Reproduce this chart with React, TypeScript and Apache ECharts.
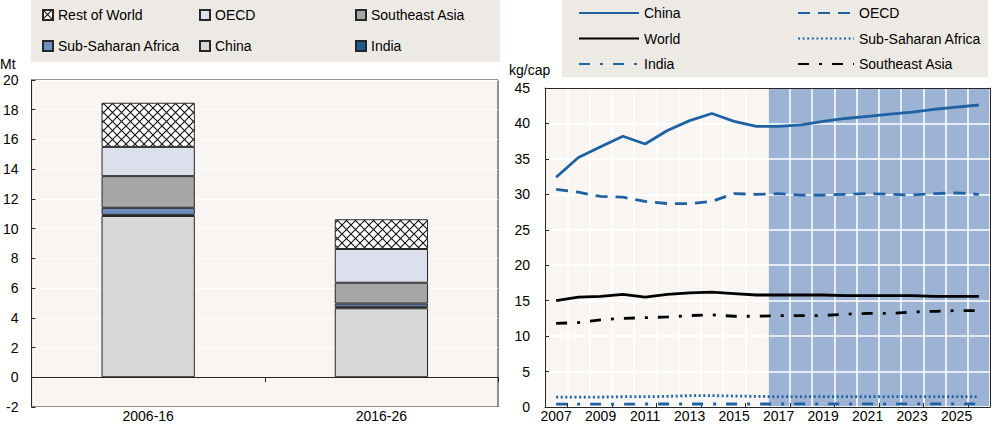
import React, { useEffect, useRef } from "react";
import * as echarts from "echarts";

// ---------- Left panel: change in consumption (Mt) ----------
const periods = ["2006-16", "2016-26"];
const chinaMt = [10.85, 4.64];
const indiaMt = [0.08, 0.1];
const ssaMt = [0.47, 0.22];
const seaMt = [2.13, 1.4];
const oecdMt = [1.97, 2.27];
const rowMt = [2.97, 2.0];

// ---------- Right panel: per capita consumption (kg/cap) ----------
const years = [
  "2007", "2008", "2009", "2010", "2011", "2012", "2013", "2014", "2015", "2016",
  "2017", "2018", "2019", "2020", "2021", "2022", "2023", "2024", "2025", "2026",
];
const projectionStartYear = 2017;
const chinaKg = [32.4, 35.2, 36.7, 38.2, 37.1, 39.0, 40.4, 41.4, 40.3, 39.6, 39.6, 39.8, 40.3, 40.7, 41.0, 41.3, 41.6, 42.0, 42.3, 42.6];
const oecdKg = [30.7, 30.3, 29.7, 29.6, 29.0, 28.7, 28.7, 29.0, 30.1, 30.0, 30.1, 29.9, 29.9, 30.0, 30.1, 30.0, 29.9, 30.1, 30.2, 30.0];
const worldKg = [15.0, 15.5, 15.6, 15.9, 15.5, 15.9, 16.1, 16.2, 16.0, 15.8, 15.8, 15.8, 15.8, 15.7, 15.7, 15.7, 15.7, 15.6, 15.6, 15.6];
const ssaKg = [1.4, 1.4, 1.4, 1.45, 1.45, 1.5, 1.6, 1.6, 1.55, 1.5, 1.45, 1.45, 1.45, 1.45, 1.45, 1.45, 1.45, 1.45, 1.45, 1.45];
const indiaKg = [0.4, 0.4, 0.4, 0.4, 0.42, 0.42, 0.42, 0.42, 0.42, 0.42, 0.42, 0.44, 0.44, 0.44, 0.45, 0.45, 0.45, 0.45, 0.45, 0.45];
const seaKg = [11.8, 11.9, 12.3, 12.5, 12.6, 12.7, 12.9, 13.0, 12.8, 12.8, 12.9, 12.9, 12.9, 13.1, 13.2, 13.2, 13.4, 13.5, 13.6, 13.6];

const FONT = "'Liberation Sans', Arial, sans-serif";
const BLUE = "#1f62a3";
const BORDER = "#262626";

function makeHatch(): HTMLCanvasElement {
  const c = document.createElement("canvas");
  c.width = 9;
  c.height = 9;
  const ctx = c.getContext("2d")!;
  ctx.fillStyle = "#ffffff";
  ctx.fillRect(0, 0, 9, 9);
  ctx.strokeStyle = "#111111";
  ctx.lineWidth = 1.1;
  ctx.beginPath();
  ctx.moveTo(-1, -1);
  ctx.lineTo(10, 10);
  ctx.moveTo(10, -1);
  ctx.lineTo(-1, 10);
  ctx.stroke();
  return c;
}

export default function App() {
  const ref = useRef<HTMLDivElement>(null);

  useEffect(() => {
    if (!ref.current) return;
    const chart = echarts.init(ref.current, undefined, { renderer: "svg" });
    const hatch = makeHatch();
    const txt = { fontSize: 14, fontFamily: FONT, color: "#000" };

    const barSeries = (name: string, data: number[], color: any) => ({
      name,
      type: "bar",
      stack: "total",
      xAxisIndex: 0,
      yAxisIndex: 0,
      barWidth: "40%",
      data,
      itemStyle: { color, borderColor: BORDER, borderWidth: 1 },
    });

    const lineSeries = (name: string, data: number[], color: string, type: any, width = 2.8) => ({
      name,
      type: "line",
      xAxisIndex: 2,
      yAxisIndex: 1,
      symbol: "none",
      z: 5,
      data,
      lineStyle: { color, width, type },
      itemStyle: { color },
    });

    const legendBase = {
      orient: "vertical",
      padding: 0,
      textStyle: { ...txt, lineHeight: 17 },
    };
    const lineLegend = {
      ...legendBase,
      itemGap: 8.5,
      itemHeight: 14,
      itemStyle: { opacity: 0 },
    };

    const option: any = {
      animation: false,
      backgroundColor: "#ffffff",
      graphic: [
        { type: "rect", shape: { x: 31, y: 0, width: 469, height: 62 }, style: { fill: "#edeae5" }, z: -10 },
        { type: "rect", shape: { x: 562, y: 0, width: 426, height: 77 }, style: { fill: "#edeae5" }, z: -10 },
        { type: "text", left: 0, top: 57, style: { text: "Mt", font: `14px ${FONT}`, fill: "#000" } },
        { type: "text", left: 509, top: 63, style: { text: "kg/cap", font: `14px ${FONT}`, fill: "#000" } },
      ],
      legend: [
        { ...legendBase, left: 42, top: 6.5, itemGap: 14, itemWidth: 10, itemHeight: 10, icon: "rect", data: ["Rest of World", "Sub-Saharan Africa"] },
        { ...legendBase, left: 199, top: 6.5, itemGap: 14, itemWidth: 10, itemHeight: 10, icon: "rect", data: ["OECD", "China"] },
        { ...legendBase, left: 355, top: 6.5, itemGap: 14, itemWidth: 10, itemHeight: 10, icon: "rect", data: ["Southeast Asia", "India"] },
        { ...lineLegend, left: 578, top: 4.5, itemWidth: 60, data: ["China ", "World", "India "] },
        { ...lineLegend, left: 797, top: 4.5, itemWidth: 56, data: ["OECD ", "Sub-Saharan Africa ", "Southeast Asia "] },
      ],
      grid: [
        { left: 30, top: 80, width: 468, height: 327, show: true, backgroundColor: "#f8f5f2", borderColor: BORDER, borderWidth: 1 },
        { left: 545, top: 88, width: 445, height: 319, show: true, backgroundColor: "#f8f5f2", borderWidth: 0 },
      ],
      xAxis: [
        {
          type: "category", gridIndex: 0, data: periods, position: "bottom",
          axisLine: { show: false, onZero: false }, axisTick: { show: false },
          axisLabel: { ...txt, margin: 2 },
        },
        {
          type: "category", gridIndex: 0, data: periods,
          axisLine: { show: true, onZero: true, lineStyle: { color: BORDER, width: 1 } },
          axisTick: { show: true, inside: true, length: 5, alignWithLabel: false, lineStyle: { color: BORDER } },
          axisLabel: { show: false },
        },
        {
          type: "category", gridIndex: 1, data: years, position: "bottom", boundaryGap: true, z: 3,
          axisLine: { show: true, onZero: false, lineStyle: { color: BORDER, width: 1 } },
          axisTick: { show: true, inside: true, length: 4, alignWithLabel: false, interval: (i: number) => i % 2 === 1, lineStyle: { color: BORDER } },
          axisLabel: { ...txt, interval: 1, margin: 2 },
          splitLine: { show: true, interval: 0, lineStyle: { color: "#ffffff", width: 1.5 } },
        },
        {
          type: "category", gridIndex: 1, data: years, position: "top", z: 3,
          axisLine: { show: true, onZero: false, lineStyle: { color: BORDER, width: 1 } },
          axisTick: { show: false }, axisLabel: { show: false }, splitLine: { show: false },
        },
      ],
      yAxis: [
        {
          type: "value", gridIndex: 0, min: -2, max: 20, interval: 2,
          axisLine: { show: true, lineStyle: { color: BORDER } },
          axisTick: { show: true, inside: true, length: 4, lineStyle: { color: BORDER } },
          axisLabel: { ...txt, margin: 13 },
          splitLine: { show: true, lineStyle: { color: "#ffffff", width: 1 } },
        },
        {
          type: "value", gridIndex: 1, min: 0, max: 45, interval: 5, z: 3,
          axisLine: { show: true, lineStyle: { color: BORDER } },
          axisTick: { show: true, inside: true, length: 4, lineStyle: { color: BORDER } },
          axisLabel: { ...txt, margin: 15 },
          splitLine: { show: true, lineStyle: { color: "#ffffff", width: 1.5 } },
        },
        {
          type: "value", gridIndex: 1, min: 0, max: 45, interval: 5, position: "right", z: 3,
          axisLine: { show: true, lineStyle: { color: BORDER } },
          axisTick: { show: false }, axisLabel: { show: false }, splitLine: { show: false },
        },
      ],
      series: [
        barSeries("China", chinaMt, "#d8d8d8"),
        barSeries("India", indiaMt, "#1d5a96"),
        barSeries("Sub-Saharan Africa", ssaMt, "#6e8fbe"),
        barSeries("Southeast Asia", seaMt, "#a6a6a6"),
        barSeries("OECD", oecdMt, "#dbe0ec"),
        barSeries("Rest of World", rowMt, { image: hatch, repeat: "repeat" }),
        {
          name: "projection",
          type: "bar",
          xAxisIndex: 2,
          yAxisIndex: 1,
          barWidth: "100%",
          silent: true,
          z: 1,
          data: years.map((y) => (Number(y) >= projectionStartYear ? 45 : null)),
          itemStyle: { color: "#9db3d3" },
        },
        lineSeries("China ", chinaKg, BLUE, "solid"),
        lineSeries("OECD ", oecdKg, BLUE, [12, 8]),
        lineSeries("World", worldKg, "#000000", "solid"),
        lineSeries("Sub-Saharan Africa ", ssaKg, BLUE, [2, 2.6]),
        lineSeries("India ", indiaKg, BLUE, [11, 10, 3, 10]),
        lineSeries("Southeast Asia ", seaKg, "#000000", [11, 10, 3, 10]),
      ],
    };

    chart.setOption(option);
    return () => chart.dispose();
  }, []);

  return (
    <div
      ref={ref}
      style={{ position: "absolute", left: 0, top: 0, width: 1000, height: 427 }}
    />
  );
}
